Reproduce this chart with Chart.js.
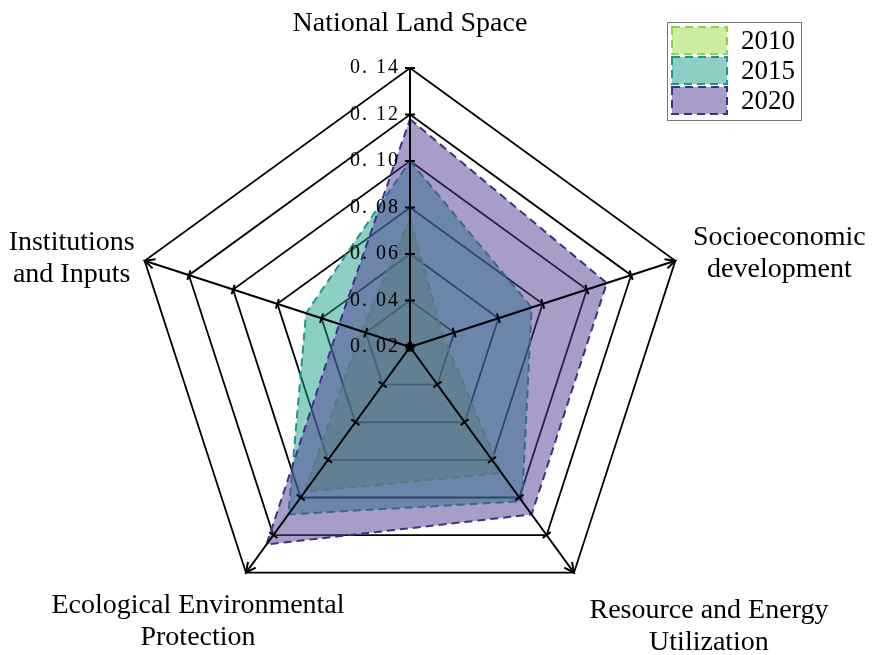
<!DOCTYPE html>
<html>
<head>
<meta charset="utf-8">
<script src="https://cdn.jsdelivr.net/npm/chart.js@4.4.1/dist/chart.umd.min.js"></script>
<style>
  html, body { margin: 0; padding: 0; background: #fff; }
  #wrap { width: 874px; height: 655px; position: relative; }
</style>
</head>
<body>
<div id="wrap"><canvas id="radarChart"></canvas></div>
<script>
// categories (one array per label line)
const categories = [
  ["National Land Space"],
  ["Socioeconomic", "development"],
  ["Resource and Energy", "Utilization"],
  ["Ecological Environmental", "Protection"],
  ["Institutions", "and Inputs"],
];

// series values
const years = ["2010", "2015", "2020"];
const values2010 = [0.075, 0.035, 0.087, 0.097, 0.042];
const values2015 = [0.100, 0.075, 0.102, 0.109, 0.067];
const values2020 = [0.118, 0.109, 0.109, 0.125, 0.052];

// radial axis ticks
const tickValues = [0.02, 0.04, 0.06, 0.08, 0.10, 0.12, 0.14];
const tickLabels = ["0. 02", "0. 04", "0. 06", "0. 08", "0. 10", "0. 12", "0. 14"];

// styling
const fillColors = ["rgba(155, 220, 70, 0.5)", "rgba(30, 160, 140, 0.5)", "rgba(80, 60, 145, 0.5)"];
const lineColors = ["rgb(140, 210, 80)", "rgb(30, 150, 140)", "rgb(62, 48, 135)"];
// label centre offsets from the outer vertex of each axis
const labelOffsets = [[0, -44], [104, -7], [135, 54], [-48, 49], [-73, -2]];

// draws axis lines, ticks, tick labels, point labels and the legend on top
const overlay = {
  id: "overlay",
  afterDatasetsDraw(chart) {
    const s = chart.scales.r;
    const ctx = chart.ctx;
    ctx.save();
    ctx.strokeStyle = "#000";
    ctx.lineWidth = 2;
    ctx.setLineDash([]);

    categories.forEach((_, i) => {
      const c = s.getPointPositionForValue(i, tickValues[0]);
      const e = s.getPointPositionForValue(i, tickValues[tickValues.length - 1]);
      const ang = Math.atan2(e.y - c.y, e.x - c.x);
      ctx.beginPath();
      ctx.moveTo(c.x, c.y);
      ctx.lineTo(e.x, e.y);
      ctx.stroke();

      // small ticks across the axis
      const nx = -Math.sin(ang), ny = Math.cos(ang);
      const last = i === 0 ? tickValues.length : tickValues.length - 1;
      for (let k = 0; k < last; k++) {
        const p = s.getPointPositionForValue(i, tickValues[k]);
        ctx.beginPath();
        ctx.moveTo(p.x - nx * 5, p.y - ny * 5);
        ctx.lineTo(p.x + nx * 5, p.y + ny * 5);
        ctx.stroke();
      }

      // arrow heads at the outer end
      if (i > 0) {
        const len = 11, spread = 0.45;
        ctx.beginPath();
        ctx.moveTo(e.x - len * Math.cos(ang - spread), e.y - len * Math.sin(ang - spread));
        ctx.lineTo(e.x, e.y);
        ctx.lineTo(e.x - len * Math.cos(ang + spread), e.y - len * Math.sin(ang + spread));
        ctx.stroke();
      }

      // point labels
      ctx.fillStyle = "#000";
      ctx.font = "28px 'Liberation Serif', serif";
      ctx.textAlign = "center";
      ctx.textBaseline = "middle";
      const lines = categories[i];
      const lh = 32;
      const cx = e.x + labelOffsets[i][0];
      const cy = e.y + labelOffsets[i][1];
      lines.forEach((t, j) => {
        ctx.fillText(t, cx, cy + (j - (lines.length - 1) / 2) * lh);
      });
    });

    // tick labels along the top axis
    ctx.font = "20px 'Liberation Serif', serif";
    ctx.letterSpacing = "2px";
    ctx.textAlign = "right";
    ctx.textBaseline = "middle";
    tickValues.forEach((v, k) => {
      const p = s.getPointPositionForValue(0, v);
      ctx.fillText(tickLabels[k], p.x - 10, p.y);
    });
    ctx.letterSpacing = "0px";

    // legend
    const lx = 667, ly = 22, lw = 134, lh2 = 98;
    ctx.strokeStyle = "#777";
    ctx.lineWidth = 1;
    ctx.strokeRect(lx + 0.5, ly + 0.5, lw, lh2);
    ctx.font = "27px 'Liberation Serif', serif";
    ctx.textAlign = "left";
    years.forEach((y, k) => {
      const ry = ly + 5 + k * 30;
      ctx.fillStyle = fillColors[k];
      ctx.fillRect(lx + 5, ry, 55, 27);
      ctx.strokeStyle = lineColors[k];
      ctx.lineWidth = 2;
      ctx.setLineDash([8, 5]);
      ctx.strokeRect(lx + 5, ry, 55, 27);
      ctx.setLineDash([]);
      ctx.fillStyle = "#000";
      ctx.fillText(y, lx + 74, ry + 15);
    });
    ctx.restore();
  },
};

const seriesValues = [values2010, values2015, values2020];

new Chart(document.getElementById("radarChart"), {
  type: "radar",
  data: {
    labels: categories,
    datasets: years.map((y, k) => ({
      label: y,
      data: seriesValues[k],
      backgroundColor: fillColors[k],
      borderColor: lineColors[k],
      borderWidth: 2,
      borderDash: [8, 5],
      pointRadius: 0,
      fill: true,
      order: 3 - k,
    })),
  },
  options: {
    responsive: true,
    maintainAspectRatio: false,
    animation: false,
    layout: { padding: { top: 68, bottom: 29, left: 131, right: 185 } },
    plugins: {
      legend: { display: false },
      tooltip: { enabled: false },
    },
    scales: {
      r: {
        min: 0.02,
        max: 0.14,
        ticks: { display: false, stepSize: 0.02 },
        pointLabels: { display: false },
        grid: { color: "#000", lineWidth: 1.8 },
        angleLines: { display: false },
      },
    },
  },
  plugins: [overlay],
});
</script>
</body>
</html>
